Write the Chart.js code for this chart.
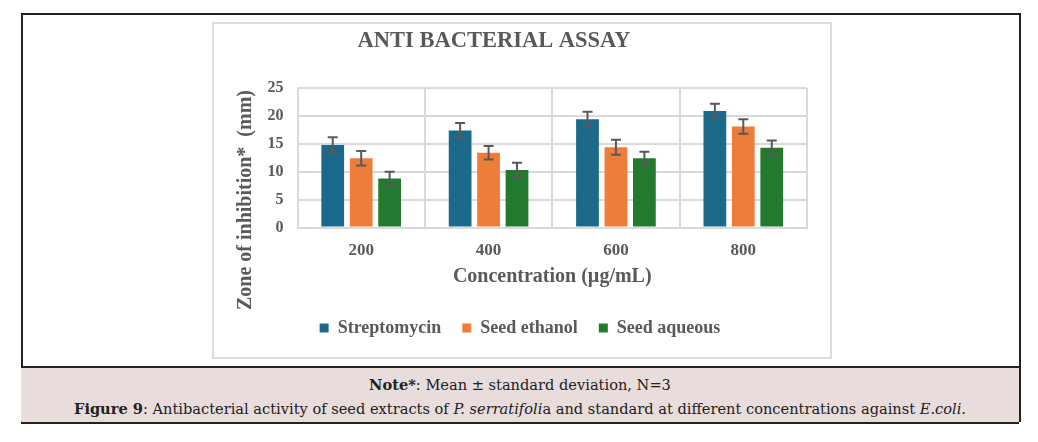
<!DOCTYPE html>
<html>
<head>
<meta charset="utf-8">
<script src="https://cdn.jsdelivr.net/npm/chart.js@4/dist/chart.umd.min.js"></script>
<style>
  body { margin: 0; background: #fff; }
  #frame { position: absolute; left: 21px; top: 13px; width: 996px; height: 407px;
           border: 2px solid #222; border-bottom: none; }
  #chartBox { position: absolute; left: 189px; top: 7px; width: 616px; height: 333px;
              border: 2px solid #dcdcdc; }
  #note { position: absolute; left: -2px; top: 351px; width: 998px; height: 54px;
          background: #e8dcdc; border-top: 2px solid #222; border-bottom: 2px solid #222;
          text-align: center; color: #222; font-family: "DejaVu Serif", serif; font-size: 14.6px; }
  #note p { margin: 0; }
  #note .l1 { position: absolute; top: 8px; width: 100%; }
  #note .l2 { position: absolute; top: 32px; width: 100%; }
</style>
</head>
<body>
<div id="frame">
  <div id="chartBox"><canvas id="assay" width="616" height="333"></canvas></div>
  <div id="note">
    <p class="l1"><b>Note*</b>: Mean ± standard deviation, N=3</p>
    <p class="l2"><b>Figure 9</b>: Antibacterial activity of seed extracts of <i>P. serratifoli</i>a and standard at different concentrations against <i>E.coli</i>.</p>
  </div>
</div>
<script>
const concentrations = ['200', '400', '600', '800'];
const streptomycin = [14.8, 17.4, 19.4, 20.9];
const seedEthanol = [12.4, 13.4, 14.4, 18.1];
const seedAqueous = [8.8, 10.3, 12.4, 14.3];
const streptomycinSD = [1.4, 1.35, 1.35, 1.3];
const seedEthanolSD = [1.3, 1.2, 1.35, 1.3];
const seedAqueousSD = [1.2, 1.3, 1.2, 1.3];
const yTicks = [0, 5, 10, 15, 20, 25];

const grey = '#595959';
const gridGrey = '#d9d9d9';

// error bars drawn from the y scale
const errorBars = {
  id: 'errorBars',
  afterDatasetsDraw(chart) {
    const ctx = chart.ctx;
    const y = chart.scales.y;
    ctx.save();
    ctx.strokeStyle = grey;
    ctx.lineWidth = 2;
    chart.data.datasets.forEach((ds, i) => {
      chart.getDatasetMeta(i).data.forEach((bar, j) => {
        const v = ds.data[j], e = ds.sd[j];
        const top = y.getPixelForValue(v + e), bot = y.getPixelForValue(v - e);
        ctx.beginPath();
        ctx.moveTo(bar.x, top); ctx.lineTo(bar.x, bot);
        ctx.moveTo(bar.x - 5, top); ctx.lineTo(bar.x + 5, top);
        ctx.moveTo(bar.x - 5, bot); ctx.lineTo(bar.x + 5, bot);
        ctx.stroke();
      });
    });
    ctx.restore();
  }
};

// title sits left of centre and the y title is centred on the whole box,
// so both are drawn here instead of by the title/axis options
const boxTexts = {
  id: 'boxTexts',
  afterDraw(chart) {
    const ctx = chart.ctx;
    ctx.save();
    ctx.fillStyle = grey;
    ctx.textAlign = 'center';
    ctx.textBaseline = 'alphabetic';
    ctx.font = 'bold 22.5px "Liberation Serif"';
    ctx.fillText('ANTI BACTERIAL ASSAY', 280, 23);
    ctx.translate(32, 176);
    ctx.rotate(-Math.PI / 2);
    ctx.font = 'bold 20px "Liberation Serif"';
    ctx.textBaseline = 'middle';
    ctx.fillText('Zone of inhibition*  (mm)', 0, 0);
    ctx.restore();
  }
};

new Chart(document.getElementById('assay'), {
  type: 'bar',
  data: {
    labels: concentrations,
    datasets: [
      { label: 'Streptomycin', data: streptomycin, sd: streptomycinSD, backgroundColor: '#1c6a8a' },
      { label: 'Seed ethanol', data: seedEthanol, sd: seedEthanolSD, backgroundColor: '#ed7d3a' },
      { label: 'Seed aqueous', data: seedAqueous, sd: seedAqueousSD, backgroundColor: '#237a2e' }
    ]
  },
  options: {
    responsive: false,
    animation: false,
    barPercentage: 0.8,
    categoryPercentage: 0.67,
    layout: { padding: { left: 19, right: 23, top: 64, bottom: 10 } },
    plugins: {
      legend: {
        position: 'bottom',
        labels: {
          color: grey,
          font: { family: 'Liberation Serif', size: 18, weight: 'bold' },
          boxWidth: 9, boxHeight: 9, padding: 21
        }
      },
      tooltip: { enabled: false }
    },
    scales: {
      x: {
        grid: { color: gridGrey, lineWidth: 2, drawTicks: false },
        border: { color: gridGrey, width: 2 },
        ticks: { color: grey, padding: 12.5, font: { family: 'Liberation Serif', size: 17, weight: 'bold' } },
        title: {
          display: true, text: 'Concentration (µg/mL)', color: grey,
          font: { family: 'Liberation Serif', size: 20, weight: 'bold' }, padding: { top: -8, bottom: 9 }
        }
      },
      y: {
        min: 0, max: 25,
        afterBuildTicks(scale) { scale.ticks = yTicks.map(v => ({ value: v })); },
        afterFit(scale) { scale.width = 64.5; },
        grid: { color: gridGrey, lineWidth: 2, drawTicks: false },
        border: { color: gridGrey, width: 2 },
        ticks: { color: grey, padding: 14, font: { family: 'Liberation Serif', size: 16, weight: 'bold' } }
      }
    }
  },
  plugins: [errorBars, boxTexts]
});
</script>
</body>
</html>
